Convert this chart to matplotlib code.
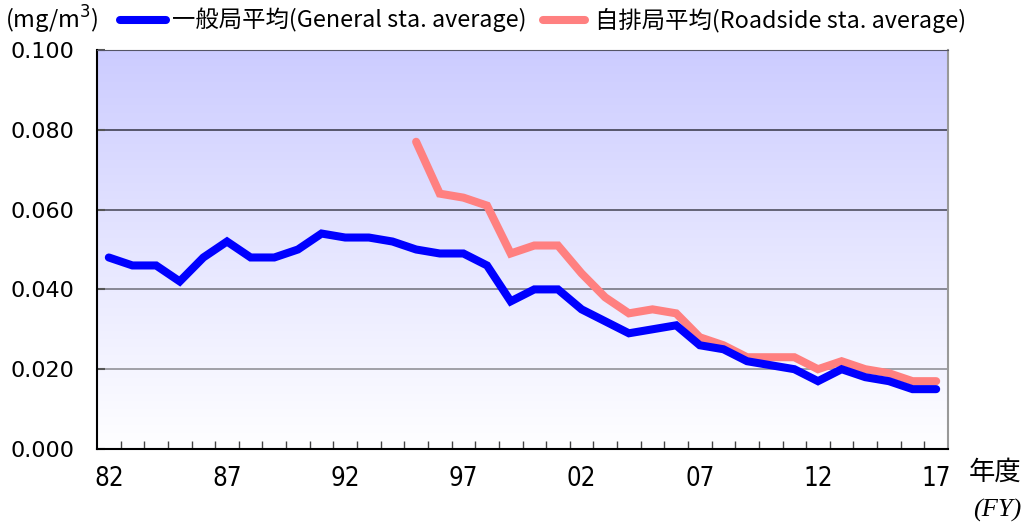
import numpy as np
import matplotlib
matplotlib.use("Agg")
import matplotlib.pyplot as plt
from matplotlib.colors import LinearSegmentedColormap
from matplotlib.lines import Line2D

plt.rcParams["font.family"] = ["Noto Sans CJK JP", "DejaVu Sans"]

years = list(range(1982, 2018))
general = [0.048, 0.046, 0.046, 0.042, 0.048, 0.052, 0.048, 0.048, 0.050, 0.054,
           0.053, 0.053, 0.052, 0.050, 0.049, 0.049, 0.046, 0.037, 0.040, 0.040,
           0.035, 0.032, 0.029, 0.030, 0.031, 0.026, 0.025, 0.022, 0.021, 0.020,
           0.017, 0.020, 0.018, 0.017, 0.015, 0.015]
road_years = list(range(1995, 2018))
roadside = [0.077, 0.064, 0.063, 0.061, 0.049, 0.051, 0.051, 0.044, 0.038, 0.034,
            0.035, 0.034, 0.028, 0.026, 0.023, 0.023, 0.023, 0.020, 0.022, 0.020,
            0.019, 0.017, 0.017]
label_years = [1982, 1987, 1992, 1997, 2002, 2007, 2012, 2017]
y_ticks = [0.0, 0.02, 0.04, 0.06, 0.08, 0.10]

BLUE = "#0000ff"
PINK = "#ff8080"

fig = plt.figure(figsize=(10.24, 5.26), dpi=100)
ax = fig.add_axes([97 / 1024, 1 - 449 / 526, 851 / 1024, 399 / 526])

# gradient background: lavender at top -> white at bottom
cmap = LinearSegmentedColormap.from_list("bg", ["#ffffff", "#ccccff"])
grad = np.linspace(0, 1, 256).reshape(-1, 1)
ax.imshow(grad, aspect="auto", cmap=cmap, origin="lower",
          extent=[0, 1, 0, 1], transform=ax.transAxes, zorder=0)

# grid lines look darker on the lavender part, lighter near the bottom
grid_colors = ["#9a9aa0", "#80808c", "#5a5a6c", "#4c4c60"]
for yv, gc in zip(y_ticks[1:-1], grid_colors):
    ax.axhline(yv, color=gc, lw=1.3, zorder=1)

ax.plot(years, general, color=BLUE, lw=5.8, solid_capstyle="round",
        solid_joinstyle="miter", zorder=3)
ax.plot(road_years, roadside, color=PINK, lw=5.8, solid_capstyle="round",
        solid_joinstyle="miter", zorder=2)

ax.set_xlim(1981.5, 2017.5)
ax.set_ylim(0, 0.1)
ax.set_yticks(y_ticks)
ax.set_yticklabels([f"{v:.3f}" for v in y_ticks], fontsize=16, family="DejaVu Sans")
ax.tick_params(axis="y", direction="in", length=6, width=1.5, color="#555555", pad=16)

ax.set_xticks(label_years)
ax.set_xticklabels([str(y)[2:] for y in label_years], fontsize=18.5,
                   family="DejaVu Sans", fontstretch="condensed")
ax.tick_params(axis="x", which="major", length=0, pad=12)
ax.set_xticks(np.arange(1982.5, 2017.5, 1.0), minor=True)
ax.tick_params(axis="x", which="minor", direction="in", length=6, width=1, color="#444444")

for side in ["left", "bottom"]:
    ax.spines[side].set_color("black")
    ax.spines[side].set_linewidth(1.5)
ax.spines["top"].set_color("#555566")
ax.spines["right"].set_color("#999999")
ax.spines["right"].set_linewidth(1.5)

fig.text(5 / 1024, 1 - 20 / 526, "(mg/m$^3$)", fontsize=17, va="center", ha="left")
fig.add_artist(Line2D([120 / 1024, 166 / 1024], [1 - 20 / 526] * 2, color=BLUE, lw=5.8,
                      solid_capstyle="round"))
fig.text(172 / 1024, 1 - 20 / 526, "一般局平均(General sta. average)", fontsize=16.8,
         va="center", ha="left")
fig.add_artist(Line2D([543 / 1024, 585 / 1024], [1 - 20 / 526] * 2, color=PINK, lw=5.8,
                      solid_capstyle="round"))
fig.text(595 / 1024, 1 - 20 / 526, "自排局平均(Roadside sta. average)", fontsize=16.8,
         va="center", ha="left")

fig.text(995 / 1024, 1 - 472 / 526, "年度", fontsize=19, va="center", ha="center")
fig.text(997 / 1024, 1 - 510 / 526, "(FY)", fontsize=19, va="center", ha="center",
         family="Liberation Serif", style="italic")

fig.savefig("out.png", dpi=100)
